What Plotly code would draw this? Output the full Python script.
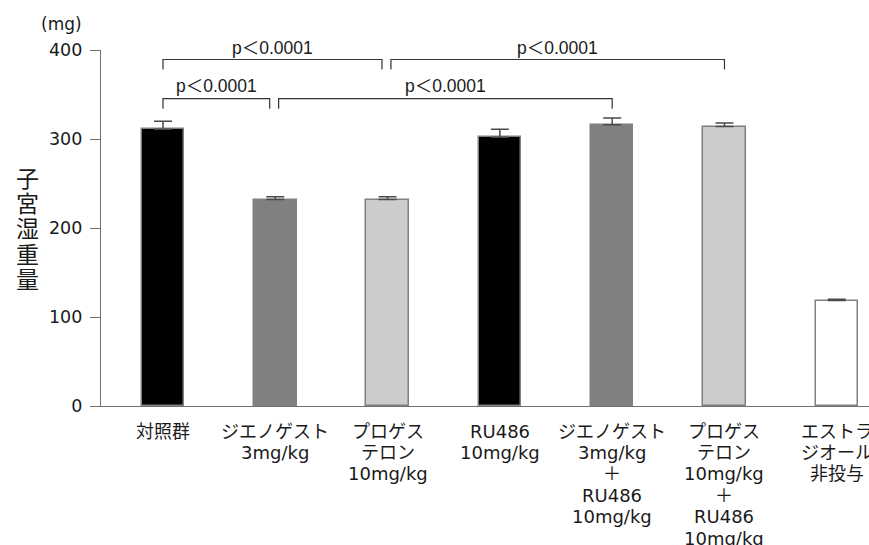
import plotly.graph_objects as go

# Group names (multi-line), mean uterine wet weight (mg) and upper SEM
groups = [
    "対照群",
    "ジエノゲスト\n3mg/kg",
    "プロゲス\nテロン\n10mg/kg",
    "RU486\n10mg/kg",
    "ジエノゲスト\n3mg/kg\n＋\nRU486\n10mg/kg",
    "プロゲス\nテロン\n10mg/kg\n＋\nRU486\n10mg/kg",
    "エストラ\nジオール\n非投与",
]
weights = [311, 232, 232, 302, 316, 314, 118.5]
sem = [9, 3, 3, 9, 7.5, 4, 1.5]
bar_colors = ["#000000", "#808080", "#cccccc", "#000000", "#808080", "#cccccc", "#ffffff"]

y_ticks = [0, 100, 200, 300, 400]
y_title = "子宮湿重量"
y_unit = "(mg)"

# Significance comparisons: (group a, group b, bracket level, label)
comparisons = [
    (0, 1, 0, "p＜0.0001"),
    (1, 4, 0, "p＜0.0001"),
    (0, 2, 1, "p＜0.0001"),
    (2, 5, 1, "p＜0.0001"),
]

LATIN = "DejaVu Sans, Noto Sans CJK JP, sans-serif"
TXT = "#1a1a1a"
AX = "#707070"

W, H = 869, 545
ML, MR, MT, MB = 101, 0, 50.4, 139
PW, PH = W - ML - MR, H - MT - MB


def px_x(px):
    """Pixel column -> paper x (paper spans the plotting area)."""
    return (px - ML) / PW


def px_y(py):
    """Pixel row -> paper y."""
    return 1 - (py - MT) / PH


x = list(range(len(groups)))

fig = go.Figure()
fig.add_trace(go.Bar(
    x=x, y=weights, width=0.378,
    marker=dict(color=bar_colors, line=dict(color="#808080", width=1.5)),
    error_y=dict(type="data", array=sem, arrayminus=[0] * len(sem), symmetric=False,
                 color="#4a4a4a", thickness=1.5, width=9),
    showlegend=False,
))

# Brackets
level_y = [345.4, 389.3]
leg = 11.3
text_py = [86.0, 48.5]
gap_l, gap_r = 0.05, 0.03
shapes = []
annotations = []
for a, b, lvl, lab in comparisons:
    xa = a + (gap_r if any(c[1] == a and c[2] == lvl for c in comparisons) else 0)
    xb = b - (gap_l if any(c[0] == b and c[2] == lvl for c in comparisons) else 0)
    yl = level_y[lvl]
    shapes.append(dict(
        type="path", xref="x", yref="y",
        path=f"M {xa},{yl - leg} L {xa},{yl} L {xb},{yl} L {xb},{yl - leg}",
        line=dict(color="#333333", width=1.2),
    ))
    annotations.append(dict(
        x=(xa + xb) / 2, y=px_y(text_py[lvl]), xref="x", yref="paper", text=lab,
        showarrow=False, yanchor="middle", xanchor="center",
        font=dict(family="Liberation Sans, Noto Sans CJK JP, sans-serif", size=17.5, color=TXT),
    ))

# Category labels, one annotation per line for tight line spacing
first_line, pitch = 25, 21.4
for i, g in enumerate(groups):
    for k, line in enumerate(g.split("\n")):
        annotations.append(dict(
            x=i, y=0, xref="x", yref="paper", text=line, showarrow=False,
            xanchor="center", yanchor="middle", yshift=-(first_line + k * pitch),
            font=dict(family=LATIN, size=18, color=TXT),
        ))

# Vertical y-axis title, stacked characters
for k, ch in enumerate(y_title):
    annotations.append(dict(
        x=px_x(27.5), y=px_y(177 + k * 25.3), xref="paper", yref="paper",
        text=ch, showarrow=False, xanchor="center", yanchor="middle",
        font=dict(family="Noto Sans CJK JP, sans-serif", size=23, color=TXT),
    ))

# Unit label above the axis
annotations.append(dict(
    x=px_x(61.5), y=px_y(24), xref="paper", yref="paper", text=y_unit,
    showarrow=False, xanchor="center", yanchor="middle",
    font=dict(family=LATIN, size=17, color=TXT),
))

fig.update_layout(
    width=W, height=H,
    margin=dict(l=ML, r=MR, t=MT, b=MB, pad=0),
    paper_bgcolor="white", plot_bgcolor="white",
    shapes=shapes, annotations=annotations,
    bargap=0,
    xaxis=dict(range=[-0.552, 6.287], showticklabels=False, ticks="",
               showline=True, linecolor=AX, linewidth=1.2, showgrid=False,
               zeroline=False, fixedrange=True),
    yaxis=dict(range=[0, 400], tickvals=y_ticks, ticks="outside", ticklen=10,
               tickcolor=AX, tickwidth=1.2, showline=True, linecolor=AX, linewidth=1.2,
               showgrid=False, zeroline=False, ticklabelstandoff=4,
               tickfont=dict(family=LATIN, size=17.5, color=TXT)),
)

fig.write_html("out.html")
